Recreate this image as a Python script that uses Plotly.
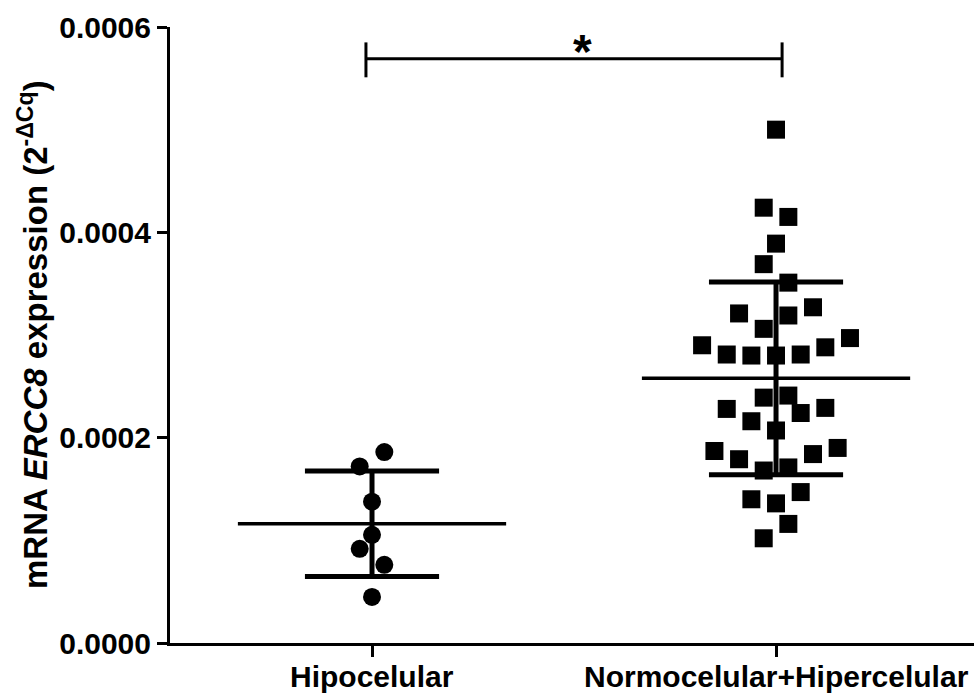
import numpy as np
import plotly.graph_objects as go

# Group labels on the x axis
categories = ["Hipocelular", "Normocelular+Hipercelular"]

# ERCC8 mRNA expression (2^-ΔCq) per sample, in entry order
hipocelular = [0.0000449, 0.0000917, 0.0000761, 0.0001054, 0.0001376,
               0.000172, 0.000186]
normo_hiper = [0.000102, 0.000116,
               0.000136, 0.000140, 0.000147,
               0.000168, 0.000171, 0.000179, 0.000184, 0.000187, 0.000190,
               0.000207, 0.000216, 0.000224, 0.000228, 0.000229,
               0.000239, 0.000241,
               0.000280, 0.000280, 0.000281, 0.000281, 0.000288, 0.000290, 0.000297,
               0.000306, 0.000319, 0.000321, 0.000327,
               0.000369, 0.000351,
               0.000389,
               0.000424, 0.000415,
               0.000500]

# Y axis ticks
y_ticks = [0.0, 0.0002, 0.0004, 0.0006]
y_ticktext = ["0.0000", "0.0002", "0.0004", "0.0006"]

FONT = "Liberation Sans, Arial, Helvetica, sans-serif"
STEP = 0.0305        # horizontal spacing between neighbouring swarm slots (x units)
ROW_H = 0.0000240    # values closer than this share a swarm row
MEAN_HALF = 0.332    # half width of the mean line
SD_HALF = 0.166      # half width of the SD caps


def swarm_offsets(values, step=STEP, row_h=ROW_H):
    """Scatter-dot layout: group values into rows, spread each row centre-out."""
    order = sorted(range(len(values)), key=lambda i: values[i])
    rows, start = [], None
    for i in order:
        if start is None or values[i] - start > row_h:
            rows.append([])
            start = values[i]
        rows[-1].append(i)
    offs = [0.0] * len(values)
    for row in rows:
        row = sorted(row)
        n = len(row)
        for k, i in enumerate(row):
            if n % 2:
                mag = 2 * ((k + 1) // 2)
                sign = -1 if k % 2 else 1
            else:
                mag = 2 * (k // 2) + 1
                sign = -1 if k % 2 == 0 else 1
            offs[i] = sign * mag * step
    return offs


fig = go.Figure()

groups = [(hipocelular, "circle"), (normo_hiper, "square")]
for gi, (vals, sym) in enumerate(groups):
    arr = np.array(vals)
    mean = arr.mean()
    sd = arr.std(ddof=1)
    # mean line
    fig.add_trace(go.Scatter(x=[gi - MEAN_HALF, gi + MEAN_HALF], y=[mean, mean],
                             mode="lines", line=dict(color="black", width=3.5),
                             hoverinfo="skip"))
    # SD whisker and caps
    fig.add_trace(go.Scatter(
        x=[gi, gi, None, gi - SD_HALF, gi + SD_HALF, None, gi - SD_HALF, gi + SD_HALF],
        y=[mean - sd, mean + sd, None, mean + sd, mean + sd, None, mean - sd, mean - sd],
        mode="lines", line=dict(color="black", width=5), hoverinfo="skip"))
    # individual samples
    offs = swarm_offsets(vals)
    fig.add_trace(go.Scatter(x=[gi + o for o in offs], y=vals, mode="markers",
                             marker=dict(symbol=sym, size=18, color="black",
                                         line=dict(width=0))))

# significance bracket between the two groups
pad = 0.015
br_y, br_lo, br_hi = 0.000569, 0.000551, 0.000585
fig.add_trace(go.Scatter(
    x=[-pad, -pad, None, -pad, 1 + pad, None, 1 + pad, 1 + pad],
    y=[br_lo, br_hi, None, br_y, br_y, None, br_lo, br_hi],
    mode="lines", line=dict(color="black", width=3), hoverinfo="skip"))

fig.add_annotation(x=0.522, y=0.000576, xref="x", yref="y", text="<b>*</b>",
                   showarrow=False, font=dict(size=48, color="black", family=FONT),
                   xanchor="center", yanchor="middle")

# y axis title
fig.add_annotation(x=(33 - 170) / 804, y=0.5, xref="paper", yref="paper",
                   text="<b>mRNA <i>ERCC8</i> expression (2<sup>-ΔCq</sup>)</b>",
                   textangle=-90, showarrow=False,
                   font=dict(size=33, color="black", family=FONT),
                   xanchor="center", yanchor="middle")

# category labels under the x axis
for gi, name in enumerate(categories):
    fig.add_annotation(x=gi, y=0, xref="x", yref="y", text=f"<b>{name}</b>",
                       showarrow=False, xanchor="center", yanchor="top",
                       yshift=-15,
                       font=dict(size=30, color="black", family=FONT))

fig.update_xaxes(range=[-0.5, 1.49], tickvals=[0, 1], showticklabels=False,
                 showline=True, linewidth=3, linecolor="black",
                 ticks="outside", ticklen=11, tickwidth=3, tickcolor="black",
                 showgrid=False, zeroline=False, automargin=False)
fig.update_yaxes(range=[0, 0.0006], tickvals=y_ticks, ticktext=y_ticktext,
                 showline=True, linewidth=3, linecolor="black",
                 ticks="outside", ticklen=10, tickwidth=3, tickcolor="black",
                 showgrid=False, zeroline=False, automargin=False,
                 tickfont=dict(size=30, color="black", family=FONT, weight="bold"))

fig.update_layout(width=974, height=693, showlegend=False,
                  margin=dict(l=170, r=0, t=27, b=50),
                  paper_bgcolor="white", plot_bgcolor="white")

fig.write_html("out.html")
